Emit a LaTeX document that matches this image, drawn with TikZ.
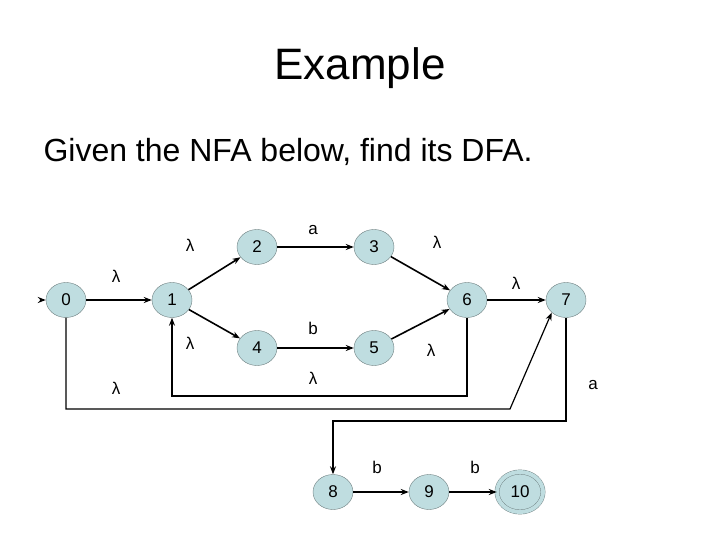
\documentclass[tikz,border=0pt]{standalone}
\usepackage{fontspec}
\setmainfont{Liberation Sans}
\usetikzlibrary{arrows.meta,shapes.geometric}
\definecolor{stfill}{HTML}{BFDDE0}
\definecolor{stline}{HTML}{6E7F80}
\begin{document}
\begin{tikzpicture}[x=1pt,y=-1pt,
  st/.style={ellipse,draw=stline,fill=stfill,minimum width=40pt,minimum height=35pt,inner sep=0pt,font=\fontsize{17}{17}\selectfont},
  lab/.style={font=\fontsize{17}{17}\selectfont},
  ed/.style={draw,line width=1.6pt,-{Stealth[length=8pt,width=6pt]}},
  ln/.style={draw,line width=1.2pt}]
\useasboundingbox (0,0) rectangle (720,540);
\node[font=\fontsize{44}{44}\selectfont] (title) at (360,68) {Example};
\node[font=\fontsize{32}{32}\selectfont,anchor=west] (given) at (40,152) {Given the NFA below, find its DFA.};
\node[st] (s0) at (66,300) {0};
\node[st] (s1) at (172,300) {1};
\node[st] (s2) at (257,247) {2};
\node[st] (s3) at (374,247) {3};
\node[st] (s4) at (257,348) {4};
\node[st] (s5) at (374,348) {5};
\node[st] (s6) at (467,300) {6};
\node[st] (s7) at (566,300) {7};
\node[st] (s8) at (333,492) {8};
\node[st] (s9) at (429,492) {9};
\node[st,double=stfill,double distance=4pt,minimum width=46pt,minimum height=40pt] (s10) at (520,492) {10};
\coordinate (init) at (40,300);
\draw[ed] (init) -- (s0);
\draw[ed] (s0) -- (s1);
\draw[ed] (s1) -- (s2);
\draw[ed] (s1) -- (s4);
\draw[ed] (s2) -- (s3);
\draw[ed] (s4) -- (s5);
\draw[ed] (s3) -- (s6);
\draw[ed] (s5) -- (s6);
\draw[ed] (s6) -- (s7);
\draw[ed] (s8) -- (s9);
\draw[ed] (s9) -- (s10);
\draw[ln,-{Stealth[length=8pt,width=6pt]}] (s6.south) -- (467,396) -| (s1.south);
\draw[ln,-{Stealth[length=8pt,width=6pt]}] (s0.south) -- (66,409) -- (510,409) -- (s7.south west);
\draw[ln,-{Stealth[length=8pt,width=6pt]}] (s7.south) -- (566,421) -| (s8.north);
\node[lab] (l01) at (116,276) {λ};
\node[lab] (l12) at (190,245) {λ};
\node[lab] (l23) at (313,230) {a};
\node[lab] (l36) at (437,242) {λ};
\node[lab] (l67) at (516,283) {λ};
\node[lab] (l14) at (190,343) {λ};
\node[lab] (l45) at (313,328) {b};
\node[lab] (l56) at (431,350) {λ};
\node[lab] (l61) at (313,378) {λ};
\node[lab] (l07) at (116,388) {λ};
\node[lab] (l78) at (593,385) {a};
\node[lab] (l89) at (377,467) {b};
\node[lab] (l910) at (475,467) {b};
\end{tikzpicture}
\end{document}
